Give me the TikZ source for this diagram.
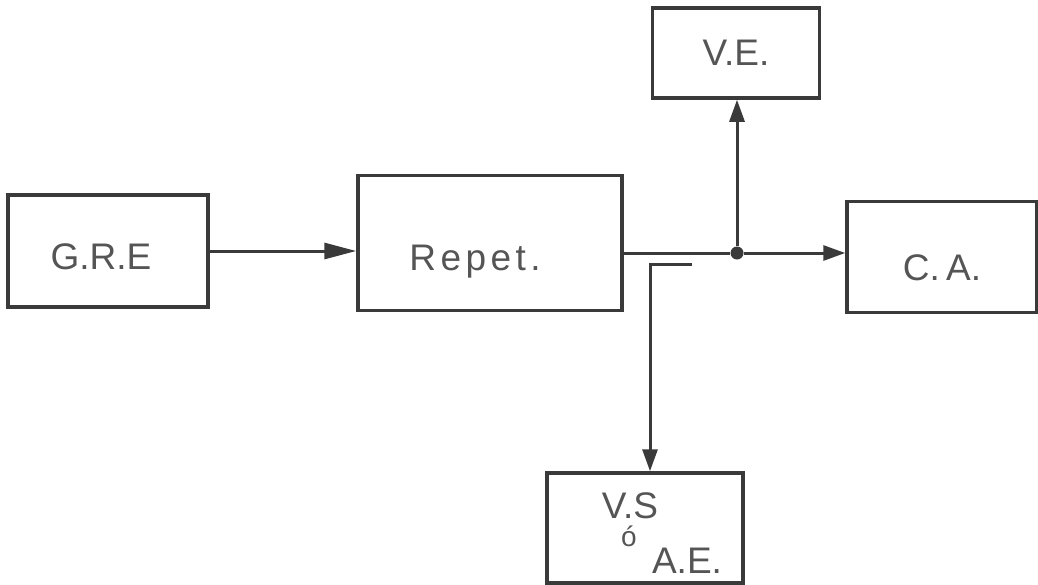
\documentclass[tikz,border=0pt]{standalone}
\usepackage{fontspec}
\setmainfont{Liberation Sans}
\usetikzlibrary{arrows.meta}
\definecolor{linegray}{HTML}{3A3A3A}
\definecolor{textgray}{HTML}{555555}
\tikzset{
    blk/.style={draw=linegray, line width=3.5pt, rectangle, inner sep=0pt},
    txt/.style={inner sep=0pt, text=textgray, font=\fontsize{37}{42}\selectfont},
    flow/.style={draw=linegray, line width=3pt, -{Triangle[length=22pt,width=15pt]}},
    dot/.style={circle, fill=linegray, inner sep=0pt, minimum size=13pt}
}

\begin{document}
\begin{tikzpicture}[x=1pt,y=-1pt]
    \useasboundingbox (0,0) rectangle (1038,584);
    \node[blk, minimum width=200pt, minimum height=112pt,
        label={[txt, xshift=-7pt, yshift=-6pt]center:G.R.E}] (gre) at (108,251) {};
    \node[blk, minimum width=264pt, minimum height=135pt,
        label={[txt, xshift=-15pt, yshift=-19pt]center:\addfontfeature{LetterSpace=12}Repet.}] (repet) at (490,243) {};
    \node[blk, minimum width=167pt, minimum height=90pt,
        label={[txt]center:V.E.}] (ve) at (736,53) {};
    \node[blk, minimum width=190pt, minimum height=111pt,
        label={[txt, yshift=-11pt]center:C.\,A.}] (ca) at (942,257) {};
    \node[blk, minimum width=196pt, minimum height=110pt] (vs) at (645,528) {};
    \node[txt] (vsa) at (630,506) {V.S};
    \node[txt, font=\fontsize{28}{32}\selectfont] (vsb) at (629,536) {ó};
    \node[txt] (vsc) at (687,561) {A.E.};
    \node[dot] (j) at (737,253) {};
    \coordinate (tap) at (692,264);
    \coordinate (bend) at (650,264);
    \draw[flow, -{Triangle[length=32pt,width=16pt]}] (gre.east) -- (gre.east -| repet.west);
    \draw[draw=linegray, line width=3pt] (repet.east |- j) -- (j);
    \draw[flow] (j) -- (j |- ve.south);
    \draw[flow] (j) -- (j -| ca.west);
    \draw[flow] (tap) -- (bend) -- (bend |- vs.north);
\end{tikzpicture}
\end{document}
